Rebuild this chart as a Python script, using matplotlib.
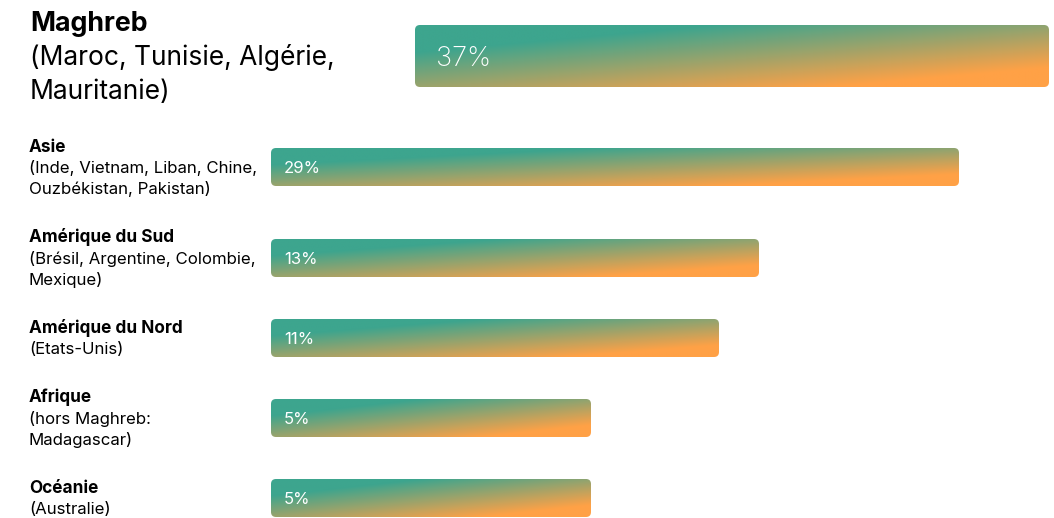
import numpy as np
import matplotlib.pyplot as plt
from matplotlib.patches import FancyBboxPatch

plt.rcParams['font.family'] = ['Inter', 'DejaVu Sans']

# data
regions = ['Maghreb', 'Asie', 'Amérique du Sud', 'Amérique du Nord', 'Afrique', 'Océanie']
details = [
    ['(Maroc, Tunisie, Algérie,', 'Mauritanie)'],
    ['(Inde, Vietnam, Liban, Chine,', 'Ouzbékistan, Pakistan)'],
    ['(Brésil, Argentine, Colombie,', 'Mexique)'],
    ['(Etats-Unis)'],
    ['(hors Maghreb:', 'Madagascar)'],
    ['(Australie)'],
]
shares = [37, 29, 13, 11, 5, 5]
# bar lengths as drawn (not proportional to the shares)
bar_lengths = [634, 688, 488, 448, 320, 320]

# layout (pixels)
row_centers = [56, 167, 258, 338, 418, 498]
bar_left = [415, 271, 271, 271, 271, 271]
bar_height = [62, 38, 38, 38, 38, 38]

teal = np.array([61, 165, 142]) / 255
orange = np.array([255, 161, 70]) / 255


def gradient():
    u = np.linspace(0, 1, 256)[None, :]
    v = np.linspace(0, 1, 64)[:, None]
    t = np.clip((0.75 * u + 0.8 * v - 0.35) / 0.95, 0, 1)
    return teal * (1 - t[..., None]) + orange * t[..., None]


fig = plt.figure(figsize=(10.54, 5.18), dpi=100)
ax = fig.add_axes([0, 0, 1, 1])
ax.set_xlim(0, 1054)
ax.set_ylim(518, 0)
ax.axis('off')

for i in range(len(regions)):
    x0 = bar_left[i]
    w = bar_lengths[i]
    h = bar_height[i]
    yc = row_centers[i]
    y0 = yc - h / 2
    patch = FancyBboxPatch((x0, y0), w, h, boxstyle='round,pad=0,rounding_size=5',
                           facecolor='none', edgecolor='none')
    ax.add_patch(patch)
    im = ax.imshow(gradient(), extent=(x0, x0 + w, y0 + h, y0),
                   interpolation='bilinear', aspect='auto')
    im.set_clip_path(patch)

    big = i == 0
    if big:
        ax.text(x0 + 21, yc + 9.7, f'{shares[i]}%', color='white',
                fontsize=19.5, fontweight='light', va='baseline', ha='left')
    else:
        ax.text(x0 + 13, yc + 6.3, f'{shares[i]}%', color='white',
                fontsize=12.0, fontweight='normal', va='baseline', ha='left')

    lines = [regions[i]] + details[i]
    n = len(lines)
    if big:
        step, off, size, x = 34.2, 9.2, 19.0, 30
    else:
        step, off, size, x = 21.3, 5.8, 12.1, 29
    for j, line in enumerate(lines):
        ax.text(x, yc + off + (j - (n - 1) / 2) * step, line,
                fontsize=size + (0.3 if j == 0 else 0),
                fontweight='bold' if j == 0 else 'normal',
                color='black', va='baseline', ha='left')

plt.savefig('out.png', dpi=100)
